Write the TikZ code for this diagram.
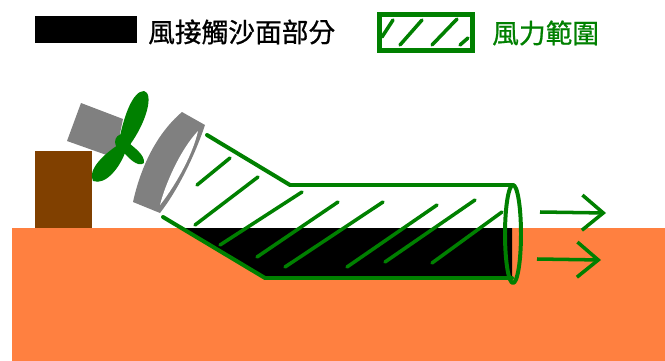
\documentclass[tikz,border=0pt]{standalone}
\usepackage{fontspec}
\newfontfamily\cjk[FakeBold=0.8]{Noto Sans CJK TC}
\usepackage{xcolor}
\usetikzlibrary{arrows.meta}
\definecolor{sand}{RGB}{255,128,64}
\definecolor{wood}{RGB}{128,64,0}
\definecolor{windgreen}{RGB}{0,128,0}
\definecolor{motor}{RGB}{128,128,128}

\begin{document}
\begin{tikzpicture}[x=0.03cm, y=-0.03cm,
    wind/.style={draw=windgreen, line width=3.4pt, line join=round, line cap=round},
    hatch/.style={windgreen, line width=3pt, line cap=round},
    keytext/.style={font=\cjk\fontsize{22.8}{24}\selectfont, anchor=west, inner sep=0pt},
    flow/.style={windgreen, line width=3pt, -{Straight Barb[length=18pt,width=30pt]}}]
    \useasboundingbox (0,0) rectangle (665,361);
    % legend
    \node (sandkey) at (86,29.5) [fill=black, inner sep=0pt, minimum width=3.06cm, minimum height=0.81cm] {};
    \node[keytext] (sandtext) at (148,32) {風接觸沙面部分};
    \node (windkey) at (426,32.5) [draw=windgreen, line width=4.2pt, inner sep=0pt, minimum width=2.79cm, minimum height=1.08cm] {};
    \draw[hatch] (382,37) -- (393,20);
    \draw[hatch] (400,45) -- (422,20);
    \draw[hatch] (432,45) -- (457,19);
    \draw[hatch] (460,45) -- (468,38);
    \node[keytext, text=windgreen] (windtext) at (492,33) {風力範圍};
    % ground and block
    \fill[sand] (12,228) rectangle (665,361);
    \fill[wood] (35,151) rectangle (92,228);
    % tube
    \coordinate (topin) at (207,135);
    \coordinate (topbend) at (290,185);
    \coordinate (topout) at (513,185);
    \coordinate (botin) at (163,217);
    \coordinate (botbend) at (265,278);
    \coordinate (botout) at (512,278);
    \fill[black] (181,228) -- (512,228) -- (botout) -- (botbend) -- cycle;
    \draw[hatch] (197,185) -- (230,158);
    \draw[hatch] (195,225) -- (258,177);
    \draw[hatch] (220,245) -- (302,192);
    \draw[hatch] (257,257) -- (338,202);
    \draw[hatch] (285,267) -- (383,202);
    \draw[hatch] (347,267) -- (437,205);
    \draw[hatch] (385,262) -- (475,200);
    \draw[hatch] (432,263) -- (502,212);
    \draw[wind] (topin) -- (topbend) -- (topout);
    \draw[wind] (botin) -- (botbend) -- (botout);
    \draw[wind] (513,234) ellipse [x radius=8, y radius=49];
    % fan
    \fill[motor] (81,103) -- (123,119) -- (115,158) -- (67,141) -- cycle;
    \fill[windgreen] (119,141) .. controls (124,115) and (133,91) .. (144,91) .. controls (154,93) and (147,122) .. (129,146) -- cycle;
    \fill[windgreen] (118,145) .. controls (104,154) and (87,170) .. (93,181) .. controls (106,186) and (121,166) .. (126,150) -- cycle;
    \fill[windgreen] (125,140) .. controls (135,148) and (145,155) .. (144,163) .. controls (138,168) and (128,158) .. (120,148) -- cycle;
    \fill[windgreen] (123,142) circle [radius=8];
    % nozzle
    \fill[motor] (182,112) -- (205,125) .. controls (195,155) and (178,190) .. (160,213)
        -- (133,202) .. controls (140,170) and (155,135) .. (182,112) -- cycle;
    \fill[white] (198,131) .. controls (180,150) and (165,185) .. (160,205) .. controls (172,190) and (192,158) .. (198,131);
    % outflow
    \coordinate (upstart) at (540,212);
    \coordinate (upend) at (606,213);
    \coordinate (lowstart) at (537,259);
    \coordinate (lowend) at (601,260);
    \draw[flow] (upstart) -- (upend);
    \draw[flow] (lowstart) -- (lowend);
\end{tikzpicture}
\end{document}
